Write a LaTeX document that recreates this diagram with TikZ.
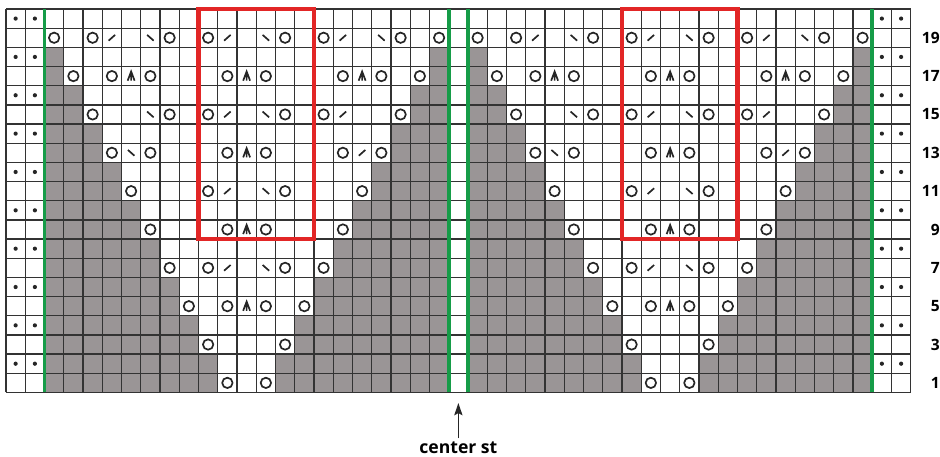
\documentclass[tikz,border=0pt]{standalone}
\usepackage{fontspec}
\setmainfont{Open Sans}
\usepackage{tikz}
\usetikzlibrary{arrows.meta}

\definecolor{chartgray}{RGB}{154,149,150}
\definecolor{repgreen}{RGB}{22,156,72}
\definecolor{repred}{RGB}{226,38,38}

\newcommand{\yo}[2]{\draw[symb] (#1-0.5,#2-0.5) circle (0.27);}
\newcommand{\ktog}[2]{\draw[symb] (#1-0.67,#2-0.65) -- (#1-0.33,#2-0.35);}
\newcommand{\sskst}[2]{\draw[symb] (#1-0.67,#2-0.35) -- (#1-0.33,#2-0.65);}
\newcommand{\cdd}[2]{\draw[symb] (#1-0.68,#2-0.74) -- (#1-0.5,#2-0.26) -- (#1-0.32,#2-0.74) (#1-0.5,#2-0.26) -- (#1-0.5,#2-0.74);}

\begin{document}
\begin{tikzpicture}[x=0.5cm, y=0.498cm,
    symb/.style={line width=1.25pt, black!85},
    gridline/.style={line width=0.95pt, black!80},
    repline/.style={line width=2.9pt, repgreen},
    boxline/.style={line width=3pt, repred},
    rowlabel/.style={anchor=east, inner sep=0pt, font=\bfseries\fontsize{11.5}{12}\selectfont},
    stlabel/.style={inner sep=2pt, font=\bfseries\fontsize{13}{14}\selectfont}]
    \useasboundingbox (-0.312,-3.32) rectangle (48.52,20.47);
    \foreach \o in {0,22} {
      \foreach \k in {1,...,9} {
        \fill[chartgray] (2+\o,2*\k-2) rectangle (12-\k+\o,2*\k);
        \fill[chartgray] (13+\k+\o,2*\k-2) rectangle (23+\o,2*\k);
      }
    }
    \draw[gridline] (0,0) grid[step=1] (47,20);
    \foreach \r in {2,4,...,20} {
      \foreach \c in {1,2,46,47} {
        \fill[black!85] (\c-0.5,\r-0.5) circle (0.11);
      }
    }
    \foreach \o in {0,22} {
      \foreach \c/\r in {3/19,5/19,9/19,11/19,15/19,17/19,21/19,23/19,
          4/17,6/17,8/17,12/17,14/17,18/17,20/17,22/17,
          5/15,9/15,11/15,15/15,17/15,21/15,
          6/13,8/13,12/13,14/13,18/13,20/13,
          7/11,11/11,15/11,19/11,
          8/9,12/9,14/9,18/9,
          9/7,11/7,15/7,17/7,
          10/5,12/5,14/5,16/5,
          11/3,15/3,
          12/1,14/1} {\yo{\c+\o}{\r}}
      \foreach \c/\r in {6/19,12/19,18/19,12/15,18/15,19/13,12/11,12/7} {\ktog{\c+\o}{\r}}
      \foreach \c/\r in {8/19,14/19,20/19,8/15,14/15,7/13,14/11,14/7} {\sskst{\c+\o}{\r}}
      \foreach \c/\r in {7/17,13/17,19/17,13/13,13/9,13/5} {\cdd{\c+\o}{\r}}
    }
    \foreach \x in {2,23,24,45} {
      \draw[repline] (\x,0) -- (\x,20);
    }
    \draw[boxline] (10,8) rectangle (16,20);
    \draw[boxline] (32,8) rectangle (38,20);
    \foreach \r in {1,3,...,19} {
      \node[rowlabel] (row\r) at (48.52,\r-0.5) {\r};
    }
    \node[stlabel] (cst) at (23.5,-2.86) {center st};
    \coordinate (cbot) at (23.5,-0.55);
    \draw[-{Stealth[length=9pt,width=6pt,inset=1.5pt]}, line width=1.1pt, black!85] (cst.north) -- (cbot);
\end{tikzpicture}
\end{document}
